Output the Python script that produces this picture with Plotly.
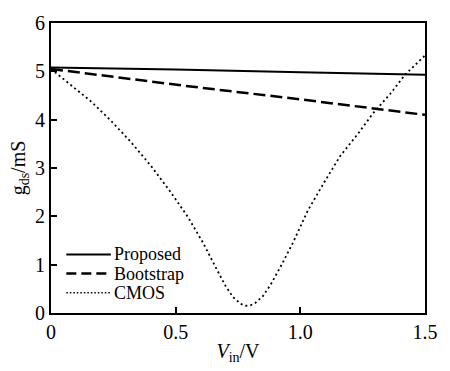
import plotly.graph_objects as go

v_prop = [0.0, 0.5, 1.0, 1.5]
g_prop = [5.08, 5.04, 4.98, 4.93]

v_boot = [0.0, 0.57, 1.0, 1.5]
g_boot = [5.05, 4.68, 4.42, 4.10]

v_cmos = [0.0, 0.08, 0.16, 0.24, 0.32, 0.40, 0.48, 0.55, 0.61, 0.66, 0.70, 0.73, 0.76,
          0.78, 0.80, 0.82, 0.85, 0.88, 0.92, 0.97, 1.03, 1.10, 1.16, 1.23, 1.29, 1.36,
          1.42, 1.50]
g_cmos = [5.05, 4.72, 4.38, 3.98, 3.54, 3.05, 2.50, 1.98, 1.45, 0.95, 0.56, 0.33, 0.19,
          0.15, 0.16, 0.21, 0.35, 0.58, 0.95, 1.45, 2.12, 2.74, 3.25, 3.70, 4.12, 4.53,
          4.93, 5.33]

x_ticks = [0, 0.5, 1.0, 1.5]
x_labels = ["0", "0.5", "1.0", "1.5"]
y_ticks = [0, 1, 2, 3, 4, 5, 6]
y_labels = ["0", "1", "2", "3", "4", "5", "6"]

names = ["Proposed", "Bootstrap", "CMOS"]

FONT = "Liberation Serif"
styles = [dict(color="black", width=2),
          dict(color="black", width=2.5, dash="12px,5px"),
          dict(color="black", width=1.8, dash="2px,3px")]
legend_styles = [dict(color="black", width=2),
                 dict(color="black", width=2.5, dash="10px,5px"),
                 dict(color="black", width=1.5, dash="1.5px,2px")]

fig = go.Figure()
for xs, ys, nm, st in zip([v_prop, v_boot, v_cmos], [g_prop, g_boot, g_cmos], names, styles):
    fig.add_trace(go.Scatter(x=xs, y=ys, mode="lines", name=nm, line=st, showlegend=False))

# manual legend (paper coords of plot area)
leg_y = [0.202, 0.136, 0.070]
for nm, yy, st in zip(names, leg_y, legend_styles):
    fig.add_shape(type="line", xref="paper", yref="paper", x0=0.041, x1=0.160,
                  y0=yy, y1=yy, line=st)
    fig.add_annotation(xref="paper", yref="paper", x=0.166, y=yy, text=nm,
                       showarrow=False, xanchor="left", yanchor="middle",
                       borderpad=0,
                       font=dict(family=FONT, size=18, color="black"))

fig.update_layout(
    width=450, height=371,
    margin=dict(l=51, r=12, t=16, b=53),
    paper_bgcolor="white", plot_bgcolor="white",
    font=dict(family=FONT, size=20, color="black"),
    showlegend=False,
    xaxis=dict(range=[0, 1.5], tickvals=x_ticks, ticktext=x_labels,
               ticks="inside", ticklen=6, tickwidth=1.5, tickcolor="black",
               showline=True, linecolor="black", linewidth=2, mirror=True,
               showgrid=False, zeroline=False,
               title=dict(text="<i>V</i><sub>in</sub>/V", standoff=2, font=dict(size=20))),
    yaxis=dict(range=[0, 6], tickvals=y_ticks, ticktext=y_labels,
               ticks="inside", ticklen=6, tickwidth=1.5, tickcolor="black",
               showline=True, linecolor="black", linewidth=2, mirror=True,
               showgrid=False, zeroline=False,
               title=dict(text="g<sub>ds</sub>/mS", standoff=4, font=dict(size=20))),
)

fig.write_html("out.html")
